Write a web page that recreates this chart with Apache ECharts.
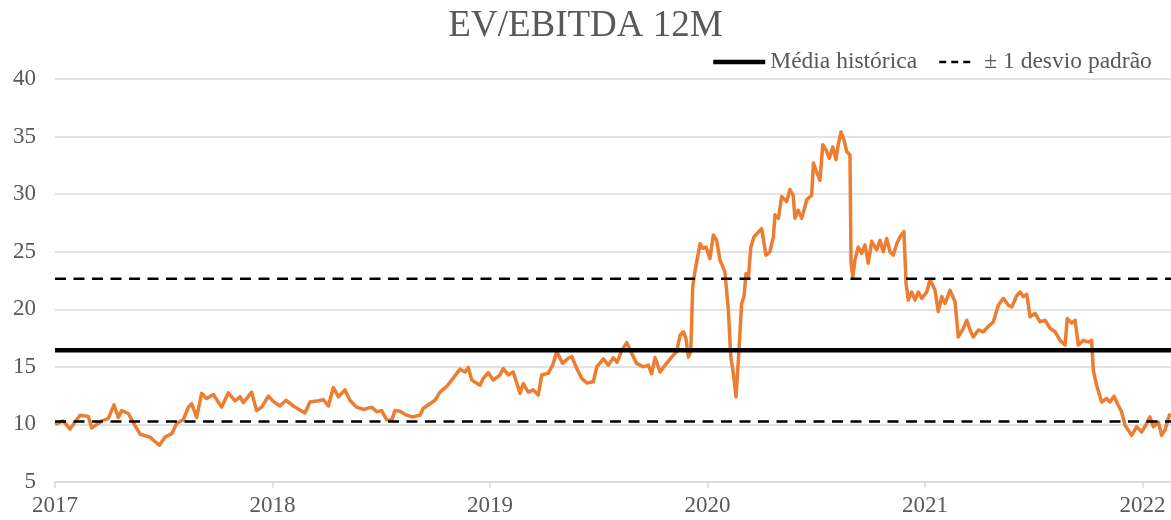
<!DOCTYPE html>
<html>
<head>
<meta charset="utf-8">
<title>EV/EBITDA 12M</title>
<script src="https://cdn.jsdelivr.net/npm/echarts@6/dist/echarts.min.js"></script>
<style>
  html, body { margin: 0; padding: 0; background: #fff; }
  #chart_id { width: 1171px; height: 520px; }
</style>
</head>
<body>
<div id="chart_id"></div>
<script>
// datas em ano decimal (2017.5 = meio de 2017)
const datas = [
  2017.000, 2017.038, 2017.069, 2017.115, 2017.153, 2017.169, 2017.215, 2017.245, 2017.271, 2017.291,
  2017.307, 2017.337, 2017.368, 2017.391, 2017.437, 2017.460, 2017.480, 2017.506, 2017.537, 2017.560,
  2017.590, 2017.613, 2017.629, 2017.651, 2017.674, 2017.697, 2017.728, 2017.766, 2017.797, 2017.828,
  2017.851, 2017.866, 2017.904, 2017.927, 2017.950, 2017.981, 2018.004, 2018.034, 2018.062, 2018.096,
  2018.149, 2018.172, 2018.211, 2018.234, 2018.257, 2018.280, 2018.303, 2018.333, 2018.356, 2018.387,
  2018.417, 2018.456, 2018.479, 2018.502, 2018.525, 2018.548, 2018.563, 2018.586, 2018.617, 2018.640,
  2018.678, 2018.693, 2018.724, 2018.747, 2018.770, 2018.801, 2018.824, 2018.862, 2018.885, 2018.900,
  2018.916, 2018.954, 2018.969, 2018.992, 2019.015, 2019.046, 2019.061, 2019.084, 2019.107, 2019.138,
  2019.153, 2019.176, 2019.199, 2019.222, 2019.238, 2019.268, 2019.288, 2019.307, 2019.334, 2019.360,
  2019.376, 2019.399, 2019.422, 2019.445, 2019.475, 2019.491, 2019.521, 2019.544, 2019.567, 2019.585,
  2019.606, 2019.629, 2019.652, 2019.674, 2019.705, 2019.728, 2019.743, 2019.759, 2019.782, 2019.805,
  2019.835, 2019.858, 2019.874, 2019.889, 2019.901, 2019.912, 2019.923, 2019.932, 2019.943, 2019.953,
  2019.966, 2019.978, 2019.993, 2020.011, 2020.027, 2020.042, 2020.057, 2020.080, 2020.096, 2020.103,
  2020.107, 2020.119, 2020.131, 2020.142, 2020.149, 2020.157, 2020.168, 2020.177, 2020.188, 2020.199,
  2020.214, 2020.229, 2020.249, 2020.269, 2020.287, 2020.303, 2020.310, 2020.326, 2020.341, 2020.364,
  2020.379, 2020.394, 2020.402, 2020.417, 2020.433, 2020.448, 2020.456, 2020.479, 2020.487, 2020.502,
  2020.517, 2020.530, 2020.545, 2020.560, 2020.576, 2020.591, 2020.601, 2020.614, 2020.629, 2020.640,
  2020.655, 2020.660, 2020.668, 2020.678, 2020.693, 2020.709, 2020.724, 2020.739, 2020.755, 2020.778,
  2020.793, 2020.808, 2020.824, 2020.839, 2020.854, 2020.870, 2020.885, 2020.903, 2020.913, 2020.923,
  2020.939, 2020.954, 2020.969, 2020.985, 2021.008, 2021.023, 2021.046, 2021.061, 2021.077, 2021.092,
  2021.115, 2021.138, 2021.153, 2021.176, 2021.192, 2021.207, 2021.222, 2021.245, 2021.268, 2021.291,
  2021.314, 2021.337, 2021.360, 2021.383, 2021.399, 2021.422, 2021.437, 2021.452, 2021.468, 2021.483,
  2021.506, 2021.529, 2021.552, 2021.575, 2021.598, 2021.621, 2021.644, 2021.654, 2021.674, 2021.690,
  2021.705, 2021.728, 2021.751, 2021.766, 2021.774, 2021.789, 2021.812, 2021.835, 2021.851, 2021.869,
  2021.889, 2021.904, 2021.920, 2021.935, 2021.950, 2021.973, 2021.996, 2022.011, 2022.034, 2022.050,
  2022.073, 2022.088, 2022.103, 2022.119, 2022.126
];
const evEbitda = [
  10.0, 10.3, 9.6, 10.8, 10.7, 9.7, 10.3, 10.5, 11.7, 10.6,
  11.2, 10.95, 9.9, 9.15, 8.9, 8.5, 8.2, 8.9, 9.2, 10.1,
  10.4, 11.5, 11.8, 10.6, 12.7, 12.25, 12.6, 11.5, 12.75, 12.05,
  12.4, 11.9, 12.8, 11.2, 11.5, 12.45, 12.0, 11.6, 12.1, 11.6,
  11.0, 11.95, 12.05, 12.15, 11.6, 13.2, 12.4, 13.0, 12.1, 11.5,
  11.3, 11.5, 11.1, 11.2, 10.4, 10.35, 11.2, 11.15, 10.8, 10.65,
  10.8, 11.4, 11.8, 12.1, 12.8, 13.3, 13.85, 14.8, 14.55, 14.95,
  13.85, 13.4, 14.0, 14.5, 13.85, 14.3, 14.85, 14.3, 14.55, 12.7,
  13.55, 12.8, 13.0, 12.55, 14.3, 14.45, 15.15, 16.3, 15.3, 15.75,
  15.9, 14.85, 14.0, 13.6, 13.7, 15.0, 15.7, 15.15, 15.8, 15.4,
  16.45, 17.1, 16.15, 15.3, 15.0, 15.15, 14.4, 15.8, 14.55, 15.15,
  15.85, 16.3, 17.75, 18.05, 17.45, 15.85, 16.3, 21.95, 23.4, 24.4,
  25.7, 25.3, 25.4, 24.4, 26.45, 26.0, 24.3, 23.25, 19.9, 17.3,
  15.85, 14.4, 12.4, 15.6, 15.6, 20.5, 21.1, 23.1, 22.7, 25.4,
  26.3, 26.6, 27.0, 24.7, 25.0, 26.3, 28.2, 27.9, 29.8, 29.35,
  30.4, 29.9, 27.9, 28.6, 27.9, 28.9, 29.5, 29.9, 32.7, 31.9,
  31.2, 34.3, 33.85, 33.1, 34.1, 33.0, 34.3, 35.4, 34.6, 33.7,
  33.4, 24.0, 22.8, 24.3, 25.4, 24.85, 25.6, 24.0, 25.9, 25.15,
  26.0, 25.0, 26.15, 25.0, 24.7, 25.7, 26.3, 26.75, 22.25, 20.8,
  21.5, 20.8, 21.5, 20.95, 21.5, 22.6, 21.65, 19.8, 21.1, 20.5,
  21.65, 20.65, 17.6, 18.35, 19.05, 18.2, 17.6, 18.2, 18.05, 18.5,
  18.9, 20.35, 20.95, 20.35, 20.2, 21.2, 21.5, 21.1, 21.3, 19.35,
  19.65, 18.9, 19.05, 18.35, 18.05, 17.3, 16.9, 19.2, 18.8, 19.05,
  16.9, 17.3, 17.15, 17.3, 14.7, 13.4, 11.95, 12.25, 11.95, 12.45,
  11.65, 11.1, 9.9, 9.5, 9.05, 9.8, 9.35, 9.8, 10.65, 9.8,
  10.2, 9.05, 9.5, 10.5, 10.95
];
const anos = [2017, 2018, 2019, 2020, 2021, 2022];
const yTicks = [5, 10, 15, 20, 25, 30, 35, 40];
const fimEixo = 2022.131;
const mediaHistorica = 16.45;
const desvioPadrao = 6.2;

const serie = datas.map((d, i) => [d, evEbitda[i]]);
const linhaConst = (v) => [[anos[0], v], [fimEixo, v]];

const fonte = 'Liberation Serif, Times New Roman, serif';
const cinzaTexto = '#595959';

const myChart = echarts.init(document.getElementById('chart_id'));
const option = {
  animation: false,
  title: {
    text: 'EV/EBITDA 12M',
    left: 'center',
    top: 3,
    textStyle: {
      fontFamily: fonte,
      fontSize: 37,
      fontWeight: 'normal',
      color: cinzaTexto,
    },
  },
  legend: [
    {
      data: ['Média histórica'],
      left: 706,
      top: 45,
      itemWidth: 52,
      itemHeight: 14,
      itemStyle: { opacity: 0 },
      lineStyle: { width: 4.5, color: '#000' },
      textStyle: { fontFamily: fonte, fontSize: 23.5, color: cinzaTexto },
    },
    {
      data: ['± 1 desvio padrão'],
      left: 933,
      top: 45,
      itemWidth: 34,
      itemHeight: 14,
      itemStyle: { opacity: 0 },
      lineStyle: { type: [7, 5], width: 2.5, color: '#000' },
      textStyle: { fontFamily: fonte, fontSize: 23.5, color: cinzaTexto, padding: [0, 0, 0, 6] },
    },
  ],
  grid: {
    left: 55,
    right: 0,
    top: 79,
    bottom: 38,
    containLabel: false,
    outerBoundsMode: 'none',
  },
  xAxis: {
    type: 'value',
    min: anos[0],
    max: fimEixo,
    interval: 1,
    axisLine: { show: true, lineStyle: { color: '#d9d9d9', width: 1.5 } },
    axisTick: {
      show: true,
      length: 6,
      lineStyle: { color: '#d9d9d9', width: 1.5 },
      customValues: anos,
    },
    axisLabel: {
      fontFamily: fonte,
      fontSize: 23,
      color: cinzaTexto,
      margin: 12,
      customValues: anos,
      formatter: (v) => String(Math.round(v)),
    },
    splitLine: { show: false },
  },
  yAxis: {
    type: 'value',
    min: yTicks[0],
    max: yTicks[yTicks.length - 1],
    interval: 5,
    axisLine: { show: false },
    axisTick: { show: false },
    axisLabel: {
      fontFamily: fonte,
      fontSize: 23,
      color: cinzaTexto,
      margin: 19,
    },
    splitLine: {
      lineStyle: { color: '#d9d9d9', width: 1.5 },
    },
  },
  series: [
    {
      name: 'EV/EBITDA',
      type: 'line',
      data: serie,
      showSymbol: false,
      symbol: 'none',
      lineStyle: { color: '#ED7D31', width: 3.5, join: 'round' },
      itemStyle: { color: '#ED7D31' },
      z: 2,
    },
    {
      name: 'Média histórica',
      type: 'line',
      data: linhaConst(mediaHistorica),
      symbol: 'none',
      silent: true,
      lineStyle: { color: '#000', width: 4.5, type: 'solid' },
      itemStyle: { color: '#000' },
      z: 3,
    },
    {
      name: '± 1 desvio padrão',
      type: 'line',
      data: linhaConst(mediaHistorica + desvioPadrao),
      symbol: 'none',
      silent: true,
      lineStyle: { color: '#000', width: 2.5, type: [11, 7.5] },
      itemStyle: { color: '#000' },
      z: 3,
    },
    {
      name: '± 1 desvio padrão',
      type: 'line',
      data: linhaConst(mediaHistorica - desvioPadrao),
      symbol: 'none',
      silent: true,
      lineStyle: { color: '#000', width: 2.5, type: [11, 7.5] },
      itemStyle: { color: '#000' },
      z: 3,
    },
  ],
};
myChart.setOption(option);
window.onresize = myChart.resize;
</script>
</body>
</html>
